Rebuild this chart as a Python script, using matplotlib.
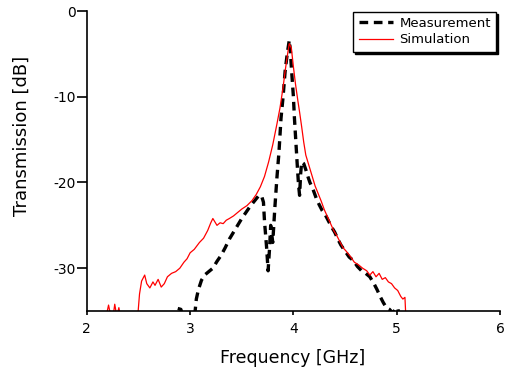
import matplotlib
matplotlib.use("Agg")
import matplotlib.pyplot as plt

sim_x = [2.18, 2.21, 2.23, 2.25, 2.27, 2.29, 2.31, 2.33, 2.40, 2.49, 2.51, 2.53, 2.56, 2.58, 2.61, 2.64, 2.66, 2.69, 2.72, 2.75, 2.78, 2.82, 2.86, 2.90, 2.94, 2.97, 3.00, 3.04, 3.09, 3.13, 3.17, 3.20, 3.22, 3.24, 3.26, 3.29, 3.32, 3.35, 3.38, 3.42, 3.46, 3.50, 3.55, 3.60, 3.64, 3.68, 3.72, 3.76, 3.80, 3.84, 3.87, 3.90, 3.92, 3.94, 3.96, 3.98, 4.00, 4.02, 4.04, 4.06, 4.08, 4.10, 4.12, 4.15, 4.18, 4.21, 4.24, 4.27, 4.30, 4.33, 4.36, 4.39, 4.42, 4.45, 4.48, 4.51, 4.55, 4.59, 4.63, 4.67, 4.71, 4.74, 4.77, 4.80, 4.83, 4.86, 4.89, 4.92, 4.95, 4.98, 5.01, 5.04, 5.06, 5.08, 5.09]
sim_y = [-36, -34.3, -35.5, -36, -34.2, -35.6, -34.6, -36, -36, -36, -33, -31.5, -30.8, -31.8, -32.3, -31.6, -32.0, -31.3, -32.2, -31.8, -31.0, -30.6, -30.4, -30.0, -29.3, -28.9, -28.2, -27.8, -27.0, -26.5, -25.6, -24.7, -24.2, -24.6, -25.0, -24.7, -24.8, -24.4, -24.2, -23.9, -23.5, -23.1, -22.7, -22.1, -21.4, -20.5, -19.3, -17.6, -15.6, -13.2, -11.3, -8.9, -7.0, -5.3, -3.8, -4.3, -6.5, -8.5, -10.2, -11.8, -13.5, -15.3, -16.8, -18.0, -19.2, -20.4, -21.3, -22.2, -23.2, -24.0, -24.8, -25.6, -26.2, -26.9, -27.6, -28.0, -28.6, -29.3, -29.6, -30.0, -30.3, -30.8, -30.4, -31.0, -30.6, -31.3, -31.1, -31.6, -31.8, -32.3, -32.6, -33.3, -33.6, -33.4, -36]

meas_x = [2.88, 2.91, 2.94, 3.04, 3.06, 3.08, 3.11, 3.14, 3.18, 3.22, 3.26, 3.30, 3.34, 3.38, 3.42, 3.46, 3.50, 3.54, 3.58, 3.62, 3.66, 3.69, 3.71, 3.72, 3.74, 3.755, 3.77, 3.78, 3.80, 3.82, 3.84, 3.86, 3.88, 3.90, 3.92, 3.94, 3.96, 3.97, 3.98, 4.00, 4.01, 4.02, 4.03, 4.04, 4.05, 4.06, 4.07, 4.08, 4.10, 4.12, 4.14, 4.16, 4.19, 4.22, 4.25, 4.28, 4.31, 4.34, 4.37, 4.40, 4.43, 4.46, 4.50, 4.54, 4.58, 4.62, 4.66, 4.70, 4.74, 4.78, 4.81, 4.84, 4.87, 4.90, 4.93, 4.96, 4.99, 5.01, 5.03]
meas_y = [-34.7, -34.8, -36, -36, -33.6, -32.5, -31.4, -30.8, -30.4, -30.0, -29.2, -28.5, -27.6, -26.6, -25.8, -25.0, -24.2, -23.5, -22.8, -22.2, -21.6, -21.5, -22.3, -24.5, -27.5, -30.3, -27.5, -25.0, -27.0, -23.0, -19.5, -16.5, -12.5, -10.0, -7.0, -5.0, -3.4, -4.5, -6.5, -10.0, -12.5, -14.5, -16.5, -18.5, -20.3, -21.5, -19.0, -17.6, -17.8, -18.5, -19.3, -20.0, -20.8, -21.8, -22.6, -23.3, -23.8, -24.5, -25.2, -25.8, -26.6, -27.3, -28.0, -28.7, -29.1, -29.8, -30.3, -30.6, -31.0, -31.8, -32.5, -33.3, -34.0, -34.6, -34.8, -35.2, -34.8, -34.6, -36]

x_ticks = [2, 3, 4, 5, 6]
y_ticks = [0, -10, -20, -30]
y_tick_labels = ["0", "-10", "-20", "-30"]

fig = plt.figure(figsize=(5.05, 3.69), dpi=100)
ax = fig.add_axes([0.172, 0.157, 0.818, 0.813])

ax.plot(meas_x, meas_y, color="black", lw=2.4, linestyle=(0, (2.6, 1.7)), label="Measurement")
ax.plot(sim_x, sim_y, color="red", lw=0.9, label="Simulation")

ax.set_xlim(2, 6)
ax.set_ylim(-35, 0)
ax.set_xticks(x_ticks)
ax.set_yticks(y_ticks)
ax.set_yticklabels(y_tick_labels)
for s in ["top", "right"]:
    ax.spines[s].set_visible(False)
for s in ["left", "bottom"]:
    ax.spines[s].set_linewidth(1.2)
ax.tick_params(direction="out", width=1.2, labelsize=10)
ax.tick_params(axis="y", length=7, pad=1)
ax.tick_params(axis="x", length=3, pad=5)

ax.set_xlabel("Frequency [GHz]", fontsize=12.5)
ax.set_ylabel("Transmission [dB]", fontsize=13)
ax.xaxis.set_label_coords(0.499, -0.128)
ax.yaxis.set_label_coords(-0.135, 0.583)

leg = ax.legend(loc="upper right", bbox_to_anchor=(1.007, 1.02), fontsize=9.5,
                frameon=True, fancybox=False, edgecolor="black",
                shadow={"color": "black", "alpha": 1.0, "ox": 1.5, "oy": -1.5},
                handlelength=2.6, borderpad=0.4, labelspacing=0.25, handletextpad=0.5)
leg.get_frame().set_linewidth(1.0)

fig.savefig("out.png", dpi=100)
